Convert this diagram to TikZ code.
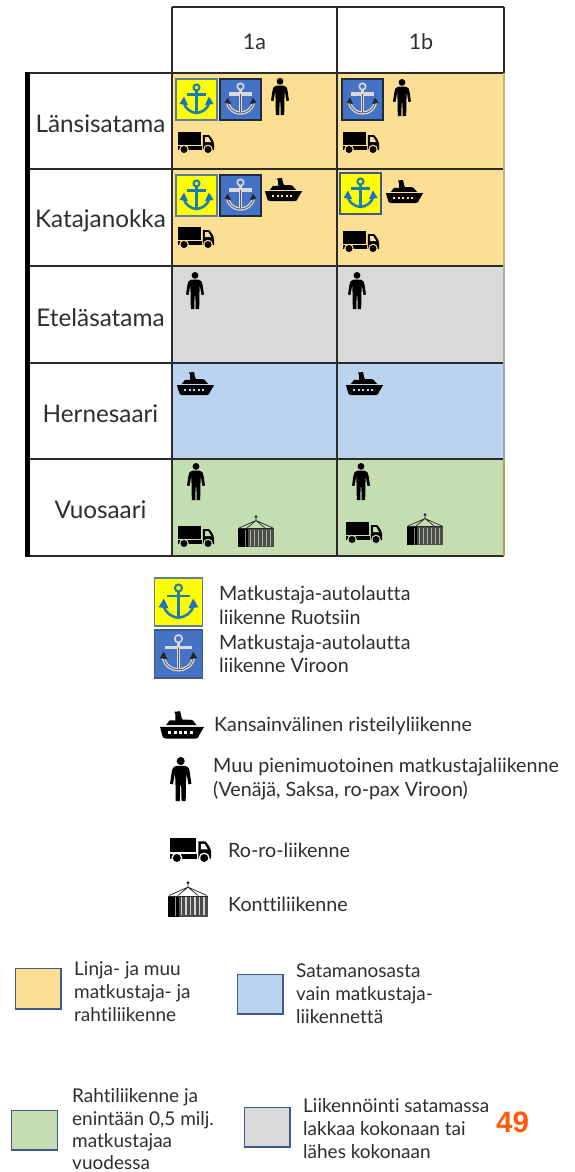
\documentclass[tikz,border=0pt]{standalone}
\usepackage{fontspec}
\setmainfont{Lato}[Ligatures=NoCommon]
\newfontfamily\numfont{Liberation Sans}
\definecolor{cyel}{HTML}{FDDF94}
\definecolor{cblu}{HTML}{BAD3EE}
\definecolor{cgry}{HTML}{D9D9D9}
\definecolor{cgrn}{HTML}{C5DEB1}
\definecolor{grid}{HTML}{2B2B2B}
\definecolor{txt}{HTML}{2E2E2E}
\definecolor{anchy}{HTML}{FFFF00}
\definecolor{anchb}{HTML}{4472C4}
\definecolor{anchline}{HTML}{1A7FAE}
\definecolor{anchtip}{HTML}{1F6FC4}
\definecolor{boxedge}{HTML}{3F5A8A}
\definecolor{greyedge}{HTML}{5F7F95}
\definecolor{darkedge}{HTML}{1E2A40}
\definecolor{num}{HTML}{FF5A0A}
\tikzset{
  x=1pt,y=-1pt,
  cellbg/.style={},
  cellrow/.style={draw=grid,line width=1.6pt},
  rowlabel/.style={font=\fontsize{24.3}{28}\selectfont,text=txt,inner sep=0pt},
  headlabel/.style={font=\fontsize{21.5}{24}\selectfont,text=txt,inner sep=0pt},
  legtext/.style={font=\fontsize{19.7}{23.5}\selectfont,text=txt,inner sep=0pt,anchor=west,align=left},
  keytext/.style={font=\fontsize{19}{23}\selectfont,text=txt,inner sep=0pt,anchor=west,align=left},
  keybox/.style={draw=boxedge,line width=1.6pt},
  pics/person/.style={code={
    \fill[black] (9,3.4) circle[radius=3.4];
    \fill[black] (5.5,7.5) -- (12.5,7.5) .. controls (15.5,8) and (16.2,10) .. (16.6,13) -- (18,22.5) -- (15.5,23) -- (13.8,13.5) -- (13.4,22) -- (13.2,37) -- (9.7,37) -- (9.4,24) -- (8.6,24) -- (8.3,37) -- (4.8,37) -- (4.6,22) -- (4.2,13.5) -- (2.5,23) -- (0,22.5) -- (1.4,13) .. controls (1.8,10) and (2.5,8) .. (5.5,7.5) -- cycle;
  }},
  pics/truck/.style={code={
    \fill[black] (0,0) rectangle (23,12.5);
    \fill[black] (0,14.2) rectangle (23.5,18);
    \fill[black] (24.8,3) -- (31,3) .. controls (33,5) and (36,9) .. (36,12) -- (36,18) -- (24.8,18) -- cycle;
    \fill[cellbg] (27,5.2) -- (30.4,5.2) -- (33.2,10) -- (27,10) -- cycle;
    \fill[cellbg] (6,17.5) circle[radius=4.8];
    \fill[cellbg] (30,17.5) circle[radius=4.8];
    \fill[black] (6,17.5) circle[radius=3.5];
    \fill[black] (30,17.5) circle[radius=3.5];
  }},
  pics/ship/.style={code={
    \fill[black] (5,12.8) -- (8,8.8) -- (13,8.8) -- (13,4) -- (12,1.5) -- (17,1) -- (18,6) -- (19,8) -- (27,8.3) -- (31,12.8) -- cycle;
    \fill[black] (0,14.2) -- (37,14.2) -- (33,21) .. controls (32.5,23) and (31.5,24) .. (30,24) -- (5,24) .. controls (3,24) and (2,23) .. (1.6,20) -- cycle;
    \foreach \q in {7,11.5,16,20.5,25}{\fill[cellbg] (\q,17.5) rectangle +(2.4,2.6);}
  }},
  pics/crate/.style={code={
    \draw[black!85,line width=.7pt] (18,5.5) -- (1,13) (18,5.5) -- (9,13) (18,5.5) -- (27,13) (18,5.5) -- (35,13) (18,5.5) -- (18,2);
    \fill[black!85] (18,1.6) circle[radius=1.5];
    \draw[black!85,line width=.7pt] (0,13.5) -- (36,13.5);
    \fill[black] (0,14) rectangle (10,32);
    \fill[black!70] (10,14) rectangle (36,32);
    \foreach \q in {11.5,15.5,...,33.5}{\fill[cellbg,opacity=.75] (\q,14.5) rectangle +(1.5,16.5);}
    \fill[cellbg,opacity=.6] (6.5,14.5) rectangle +(.7,17);
  }},
  pics/yanchor/.style={code={
    \draw[draw=#1,fill=anchy,line width=1.5pt] (0,0) rectangle (41,41);
    \draw[anchline,line width=2pt] (20.5,8.5) circle[radius=3];
    \draw[anchline,line width=2.5pt] (20.5,11.5) -- (20.5,33) (11,15.5) -- (30,15.5);
    \draw[anchline,line width=2.5pt] (7.5,23) .. controls (9,30) and (15,33.5) .. (20.5,34) .. controls (26,33.5) and (32,30) .. (33.5,23);
    \fill[anchtip] (3.5,25) -- (8,17.5) -- (12,26) -- cycle;
    \fill[anchtip] (37.5,25) -- (33,17.5) -- (29,26) -- cycle;
  }},
  pics/banchor/.style={code={
    \draw[draw=#1,fill=anchb,line width=1.5pt] (0,0) rectangle (41,41);
    \draw[cgry,line width=1.6pt] (20.5,7.5) circle[radius=3.2];
    \draw[cgry,line width=3.6pt] (20.5,11) -- (20.5,33) (9,15) -- (32,15);
    \draw[cgry,line width=3.4pt] (7.5,23) .. controls (9,31) and (15,34) .. (20.5,34) .. controls (26,34) and (32,31) .. (33.5,23);
    \draw[black!65,line width=.8pt] (20.5,15) -- (20.5,33) (7.5,23) .. controls (9,31) and (15,34) .. (20.5,34) .. controls (26,34) and (32,31) .. (33.5,23);
    \fill[black!85] (4.5,24) -- (8,18.5) -- (11,25) -- cycle;
    \fill[black!85] (36.5,24) -- (33,18.5) -- (30,25) -- cycle;
  }},
}
\begin{document}
\begin{tikzpicture}
\useasboundingbox (0,0) rectangle (575,1172);
\fill[white] (0,0) rectangle (575,1172);
% table fills
\fill[cyel] (172,73) rectangle (504,266);
\fill[cgry] (172,266) rectangle (504,363);
\fill[cblu] (172,363) rectangle (504,459);
\fill[cgrn] (172,459) rectangle (504,556);
% grid
\draw[cellrow] (172,7) -- (504,7);
\draw[cellrow] (30,73) -- (504,73);
\foreach \ya in {169,266,363,459}{\draw[cellrow] (30,\ya) -- (504,\ya);}
\draw[cellrow,line width=2pt] (30,556) -- (504,556);
\draw[cellrow] (172,7) -- (172,556);
\draw[cellrow] (337,7) -- (337,556);
\draw[cellrow,line width=1.3pt] (504,7) -- (504,73);
\draw[draw=cyel!80!black,line width=1.3pt] (504,73) -- (504,266);
\draw[draw=cgry!80!black,line width=1.3pt] (504,266) -- (504,363);
\draw[draw=cblu!80!black,line width=1.3pt] (504,363) -- (504,459);
\draw[draw=cyel!70!black,line width=1.3pt] (504,459) -- (504,556);
\fill[black] (24.5,72) rectangle (29.5,557);
% labels
\node[headlabel] (h1) at (254.5,42) {1a};
\node[headlabel] (h2) at (421,42) {1b};
\node[rowlabel] (r1) at (100.5,124) {Länsisatama};
\node[rowlabel] (r2) at (100.5,221) {Katajanokka};
\node[rowlabel] (r3) at (100.5,318) {Eteläsatama};
\node[rowlabel] (r4) at (100.5,414) {Hernesaari};
\node[rowlabel] (r5) at (100.5,510) {Vuosaari};
% cell icons
\begin{scope}[cellbg/.style={color=cyel}]
\pic at (176,79) {yanchor=greyedge};
\pic at (220,79) {banchor=darkedge};
\pic at (271,78) {person};
\pic at (178,132) {truck};
\pic at (342,79) {banchor=darkedge};
\pic at (393,79) {person};
\pic at (343,132) {truck};
\pic at (176,175) {yanchor=greyedge};
\pic at (220,175) {banchor=darkedge};
\pic at (265,177) {ship};
\pic at (178,227) {truck};
\pic at (340,173) {yanchor=boxedge};
\pic at (386,179) {ship};
\pic at (343,231) {truck};
\end{scope}
\pic at (186,272) {person};
\pic at (348,272) {person};
\begin{scope}[cellbg/.style={color=cblu}]
\pic at (177,371) {ship};
\pic at (346,371) {ship};
\end{scope}
\begin{scope}[cellbg/.style={color=cgrn}]
\pic at (187,463) {person};
\pic at (352,463) {person};
\pic at (178,526) {truck};
\pic at (238,515) {crate};
\pic at (346,522) {truck};
\pic at (407,513) {crate};
\end{scope}
% legend icons
\begin{scope}[cellbg/.style={color=white}]
\pic[scale=1.17] at (154.5,578) {yanchor=greyedge};
\pic[scale=1.17] at (154.5,630) {banchor=boxedge};
\pic[scale=1.19] at (160,710) {ship};
\pic[scale=1.19] at (170,757) {person};
\pic[scale=1.14] at (170,838) {truck};
\pic[scale=1.11] at (168,881) {crate};
\end{scope}
\node[legtext] (l1) at (219,605.5) {Matkustaja-autolautta\\liikenne Ruotsiin};
\node[legtext] (l2) at (219,654) {Matkustaja-autolautta\\liikenne Viroon};
\node[legtext] (l3) at (214,726) {Kansainvälinen risteilyliikenne};
\node[legtext] (l4) at (213,779) {Muu pienimuotoinen matkustajaliikenne\\(Venäjä, Saksa, ro-pax Viroon)};
\node[legtext] (l5) at (228,850) {Ro-ro-liikenne};
\node[legtext] (l6) at (228,904) {Konttiliikenne};
% key
\draw[keybox,fill=cyel] (15.5,968.5) rectangle (61,1009);
\draw[keybox,fill=cblu] (237.5,974.5) rectangle (283,1014);
\draw[keybox,fill=cgrn] (11.5,1110.5) rectangle (57.5,1150);
\draw[keybox,fill=cgry] (244.5,1107.5) rectangle (290,1147);
\node[keytext] (k1) at (74,992) {Linja- ja muu\\matkustaja- ja\\rahtiliikenne};
\node[keytext] (k2) at (296,994) {Satamanosasta\\vain matkustaja-\\liikennettä};
\node[keytext,font=\fontsize{19}{22.3}\selectfont] (k3) at (72,1129.5) {Rahtiliikenne ja\\enintään 0,5 milj.\\matkustajaa\\vuodessa};
\node[keytext] (k4) at (303,1129) {Liikennöinti satamassa\\lakkaa kokonaan tai\\lähes kokonaan};
\node[inner sep=0pt,text=num,font=\numfont\bfseries\fontsize{29.5}{32}\selectfont] (pg) at (512.5,1122) {49};
\end{tikzpicture}
\end{document}
